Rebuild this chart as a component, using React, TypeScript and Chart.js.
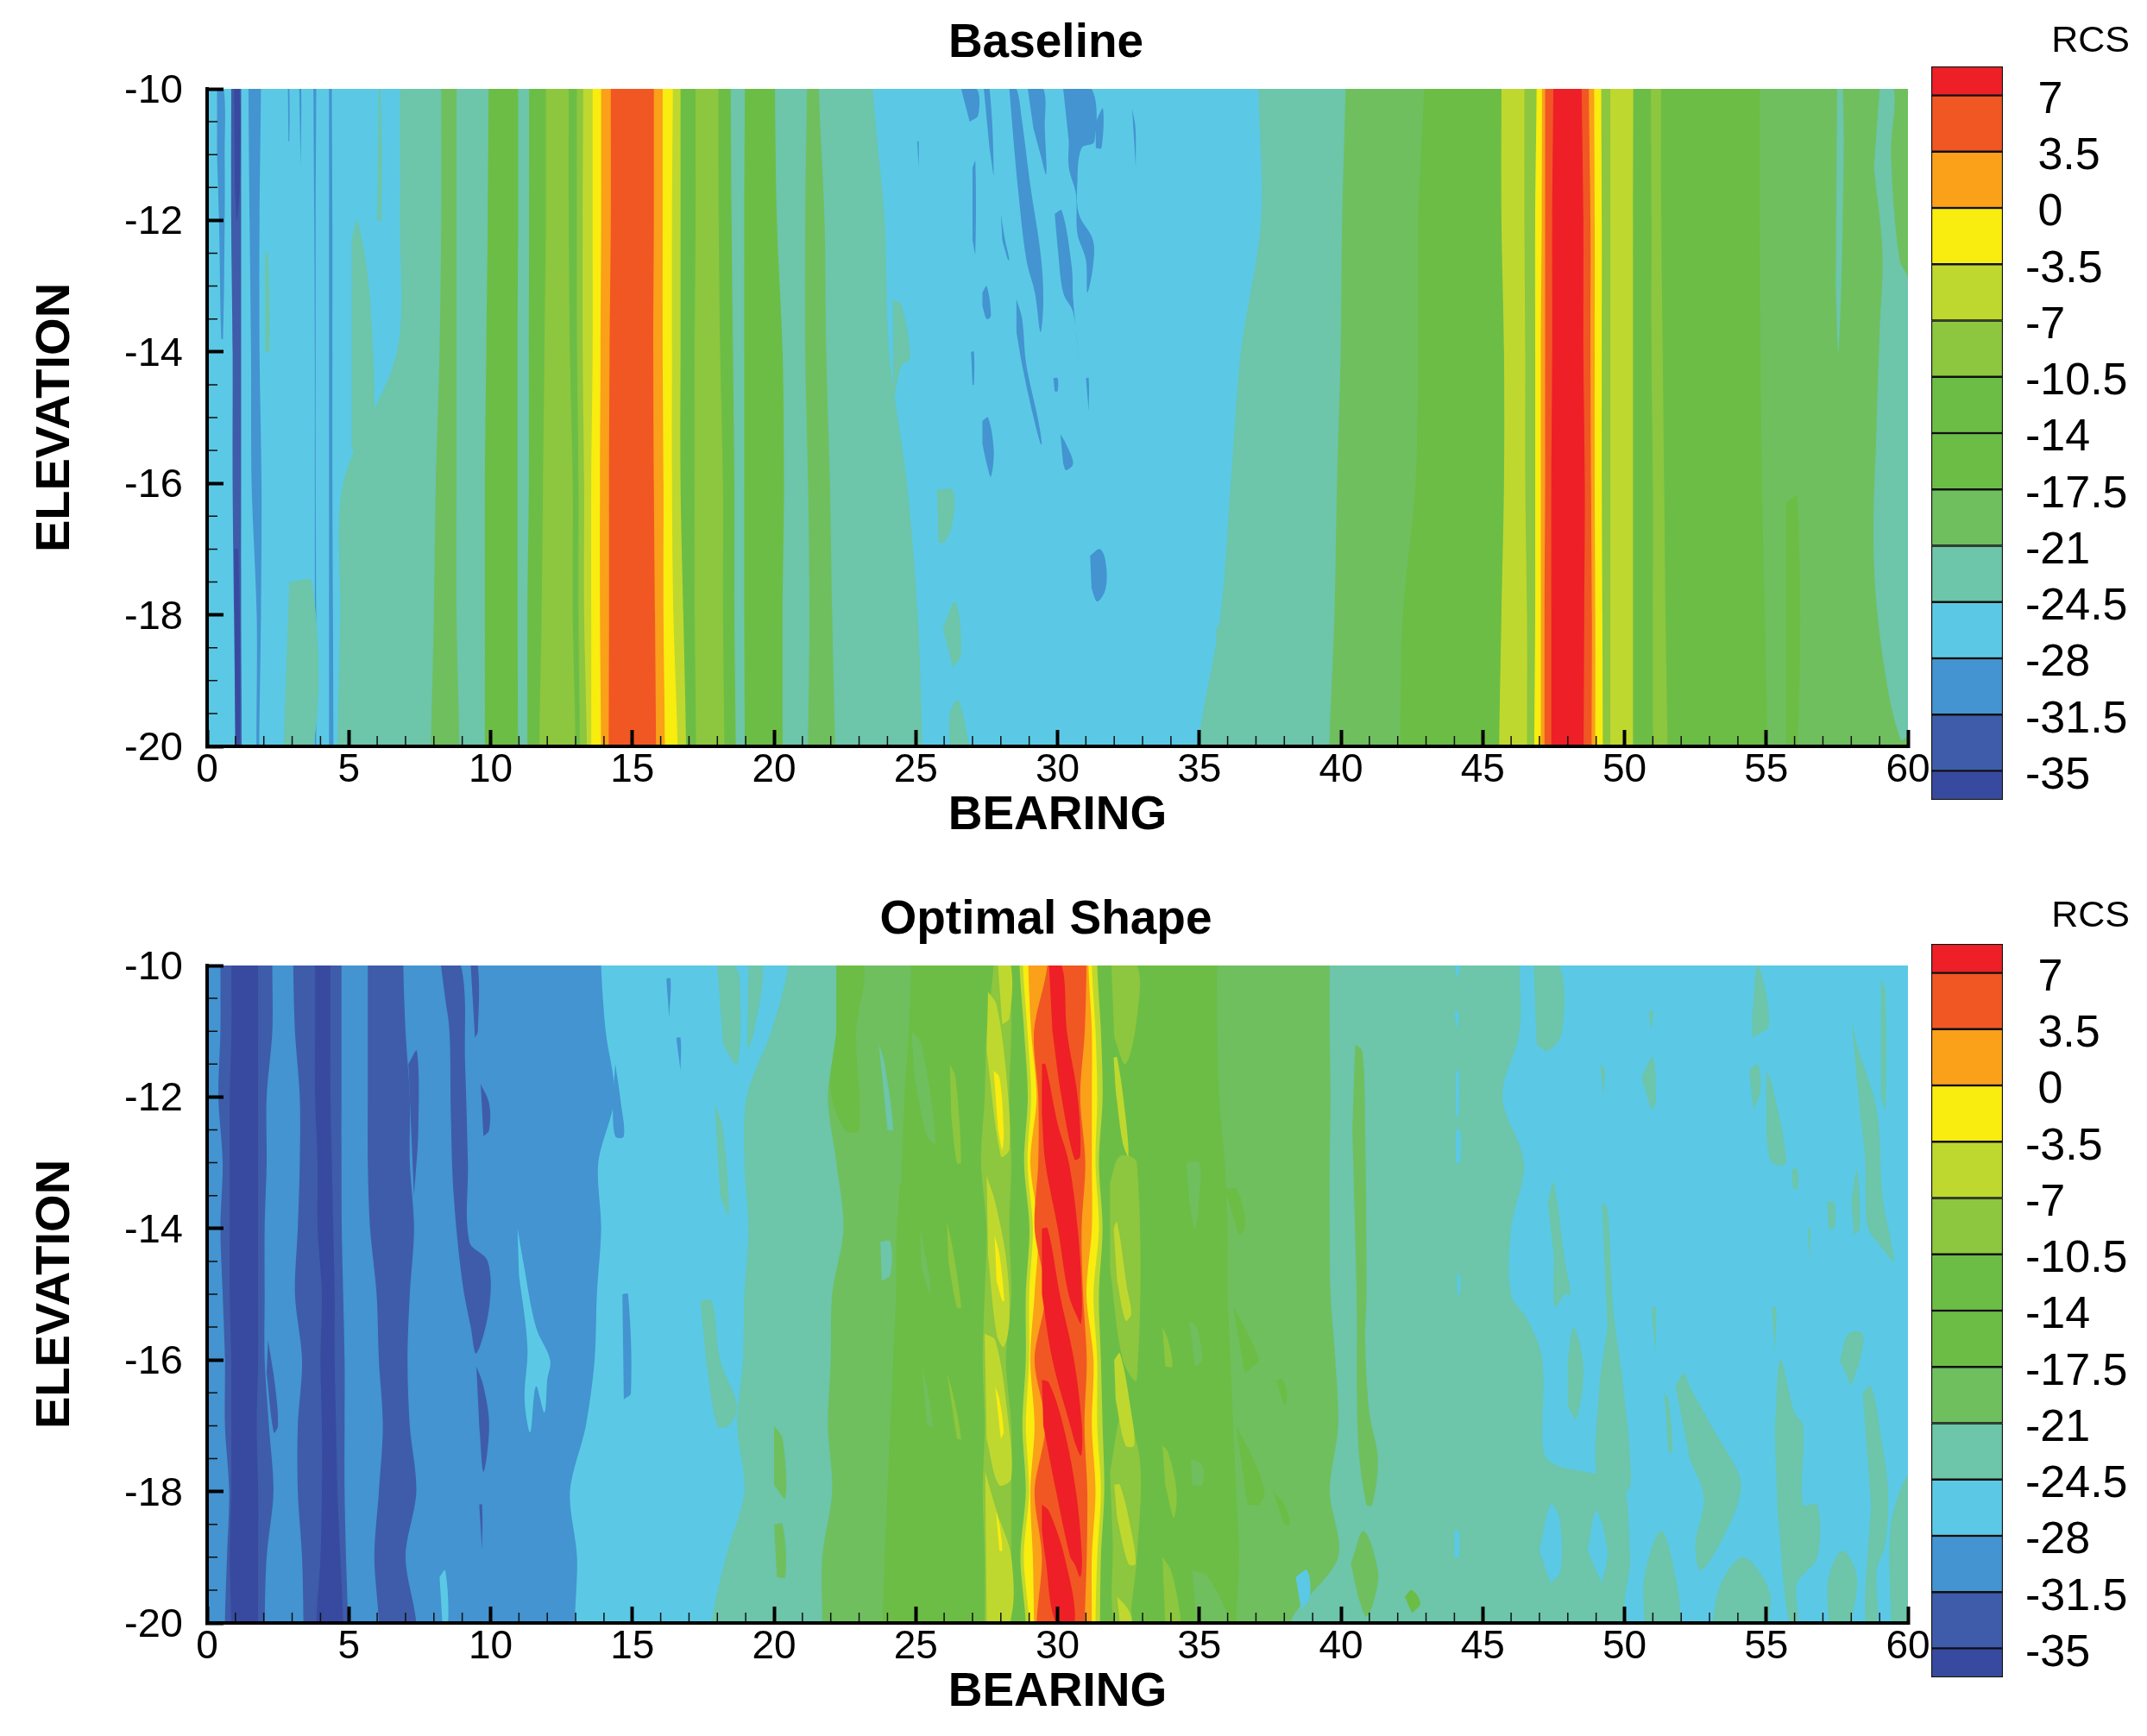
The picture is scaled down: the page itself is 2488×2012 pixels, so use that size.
import React, { useEffect, useRef } from "react";
import { Chart, registerables } from "chart.js";

Chart.register(...registerables);

const FONT = "'Liberation Sans', Arial, sans-serif";

const rcsTicks = [-35, -31.5, -28, -24.5, -21, -17.5, -14, -10.5, -7, -3.5, 0, 3.5, 7];
const rcsEdges = [-36.8, -35, -31.5, -28, -24.5, -21, -17.5, -14, -10.5, -7, -3.5, 0, 3.5, 7, 8.8];
const levelColors = ["#384a9f", "#3e5ca9", "#4394d1", "#5bc9e5", "#6dc5aa", "#6fbf5f", "#6cbd45", "#6cbd45", "#8dc63f", "#bfd82f", "#f9ec0f", "#faa019", "#f15722", "#ee1f26"];

const minorBearing = [1, 2, 3, 4, 6, 7, 8, 9, 11, 12, 13, 14, 16, 17, 18, 19, 21, 22, 23, 24, 26, 27, 28, 29, 31, 32, 33, 34, 36, 37, 38, 39, 41, 42, 43, 44, 46, 47, 48, 49, 51, 52, 53, 54, 56, 57, 58, 59];
const minorElevation = [-10.5, -11, -11.5, -12.5, -13, -13.5, -14.5, -15, -15.5, -16.5, -17, -17.5, -18.5, -19, -19.5];

type Edge = [number, number[]];
type Island = [number, number[]];

const baselineRows = [-10, -12, -14, -16, -18, -20];
const baselineEdges: Edge[] = [
  [3, [0, 0, 0, 0, 0, 0]],
  [1, [0.85, 0.85, 0.9, 0.9, 0.95, 1.0]],
  [3, [1.2, 1.2, 1.2, 1.2, 1.2, 1.22]],
  [2, [1.46, 1.5, 1.55, 1.57, 1.75, 1.74]],
  [3, [1.9, 1.85, 1.85, 1.92, 1.9, 1.84]],
  [2, [3.75, 3.78, 3.8, 3.8, 3.8, 3.8]],
  [3, [3.85, 3.83, 3.83, 3.83, 3.85, 3.85]],
  [2, [4.3, 4.3, 4.3, 4.3, 4.3, 4.3]],
  [3, [4.4, 4.42, 4.42, 4.42, 4.44, 4.46]],
  [4, [6.8, 6.8, 6.7, 4.8, 4.7, 4.6]],
  [5, [8.26, 8.26, 8.2, 8.07, 8.0, 7.9]],
  [4, [8.8, 8.8, 8.8, 8.8, 8.8, 8.9]],
  [6, [9.93, 9.9, 9.85, 9.8, 9.8, 9.8]],
  [4, [10.97, 10.97, 10.95, 10.95, 10.95, 10.97]],
  [6, [11.36, 11.36, 11.35, 11.35, 11.3, 11.3]],
  [8, [11.95, 11.95, 11.9, 11.85, 11.8, 11.72]],
  [6, [12.76, 12.76, 12.8, 12.9, 12.9, 13.0]],
  [8, [13.04, 13.04, 13.05, 13.1, 13.1, 13.15]],
  [9, [13.27, 13.25, 13.25, 13.3, 13.3, 13.4]],
  [10, [13.6, 13.6, 13.6, 13.55, 13.55, 13.55]],
  [11, [13.9, 13.9, 13.88, 13.86, 13.86, 13.9]],
  [12, [14.24, 14.24, 14.2, 14.18, 14.18, 14.17]],
  [11, [15.76, 15.76, 15.74, 15.76, 15.8, 15.84]],
  [10, [16.07, 16.07, 16.07, 16.1, 16.1, 16.15]],
  [9, [16.43, 16.4, 16.4, 16.4, 16.45, 16.6]],
  [7, [16.7, 16.7, 16.7, 16.7, 16.8, 16.9]],
  [8, [17.23, 17.23, 17.2, 17.2, 17.2, 17.25]],
  [6, [18.04, 18.05, 18.1, 18.2, 18.2, 18.25]],
  [4, [18.47, 18.5, 18.55, 18.6, 18.6, 18.65]],
  [6, [18.97, 18.95, 18.95, 18.95, 18.95, 18.97]],
  [4, [20.03, 20.1, 20.3, 20.35, 20.3, 20.3]],
  [5, [21.16, 21.1, 21.1, 21.2, 21.25, 21.2]],
  [4, [21.58, 21.78, 21.84, 21.97, 22.05, 22.15]],
  [3, [23.49, 23.9, 24.06, 24.69, 25.07, 25.23]],
  [4, [37.09, 37.18, 36.47, 36.11, 35.75, 34.95]],
  [5, [40.16, 40.04, 39.99, 39.86, 39.77, 39.59]],
  [6, [42.93, 42.72, 42.72, 42.63, 42.18, 42.09]],
  [9, [45.66, 45.66, 45.75, 45.75, 45.66, 45.58]],
  [8, [46.47, 46.47, 46.5, 46.5, 46.56, 46.56]],
  [10, [46.9, 46.85, 46.85, 46.85, 46.85, 46.82]],
  [11, [47.09, 47.08, 47.05, 47.05, 47.05, 47.05]],
  [12, [47.2, 47.2, 47.2, 47.2, 47.18, 47.18]],
  [13, [47.49, 47.45, 47.45, 47.42, 47.42, 47.42]],
  [12, [48.49, 48.55, 48.55, 48.6, 48.58, 48.56]],
  [11, [48.74, 48.8, 48.8, 48.82, 48.85, 48.84]],
  [10, [48.93, 48.95, 48.95, 48.95, 48.97, 48.97]],
  [8, [49.18, 49.2, 49.2, 49.2, 49.22, 49.24]],
  [9, [49.5, 49.5, 49.5, 49.5, 49.5, 49.5]],
  [6, [50.31, 50.3, 50.3, 50.3, 50.3, 50.3]],
  [8, [50.93, 50.95, 50.95, 51.0, 51.0, 51.0]],
  [6, [51.29, 51.3, 51.35, 51.4, 51.45, 51.52]],
  [5, [54.77, 54.77, 54.8, 54.85, 54.95, 55.04]],
];
const baselineIslands: Island[] = [
  [2, [0.35, -10, 0.59, -10, 0.62, -11, 0.62, -12, 0.56, -13.8, 0.5, -13.8, 0.42, -12, 0.35, -11]],
  [0, [0.95, -10, 1.15, -10, 1.15, -11.5, 1.05, -12, 0.98, -11.5]],
  [0, [0.95, -17, 1.1, -17, 1.15, -20, 1.0, -20]],
  [4, [5.1, -12.3, 5.3, -12, 5.75, -13.2, 5.8, -15.5, 5.1, -15.5]],
  [4, [6.05, -10, 6.12, -10, 6.15, -12, 6.0, -12]],
  [4, [2.05, -12.5, 2.15, -12.5, 2.2, -14, 2.05, -14]],
  [4, [2.9, -17.5, 3.7, -17.5, 3.75, -20, 2.7, -20]],
  [2, [2.85, -10, 2.9, -10, 2.9, -10.8, 2.87, -10.8]],
  [2, [3.25, -10, 3.32, -10, 3.3, -11.2]],
  [2, [30.2, -10, 31.2, -10, 31.3, -10.8, 30.85, -10.9, 30.7, -11.4, 30.75, -11.9, 31.25, -12.3, 31.25, -12.7, 31.05, -13.1, 31.0, -12.6, 30.7, -12.2, 30.65, -11.6, 30.4, -11.2, 30.4, -10.8]],
  [2, [28.3, -10, 28.55, -10, 28.75, -10.5, 29.05, -11.5, 29.4, -12.5, 29.5, -13.2, 29.4, -13.7, 29.2, -13.1, 28.9, -12.6, 28.6, -11.5, 28.45, -10.8]],
  [2, [28.95, -10, 29.5, -10, 29.55, -10.6, 29.6, -11.3, 29.4, -11, 29.15, -10.6]],
  [2, [26.6, -10, 27.15, -10, 27.2, -10.4, 26.9, -10.5]],
  [2, [27.4, -10, 27.6, -10, 27.75, -11.3, 27.6, -10.9]],
  [2, [29.9, -11.9, 30.15, -11.85, 30.5, -12.7, 30.55, -13.2, 30.75, -14.1, 30.55, -13.4, 30.2, -13.1, 30.0, -12.4]],
  [2, [28.55, -13.2, 28.75, -13.5, 28.9, -14.2, 29.3, -15, 29.45, -15.4, 29.4, -15.4, 29.1, -14.9, 28.75, -14.2, 28.55, -13.7]],
  [2, [27, -11.2, 27.1, -11.1, 27.1, -12.5, 27.0, -12.3]],
  [2, [28, -11.9, 28.15, -12.3, 28.3, -12.6, 28.25, -12.6, 28.05, -12.3]],
  [2, [27.35, -13.1, 27.5, -13.0, 27.65, -13.45, 27.5, -13.5, 27.35, -13.3]],
  [2, [27.35, -15.05, 27.55, -15, 27.75, -15.5, 27.65, -15.9, 27.5, -15.7, 27.35, -15.4]],
  [2, [30.1, -15.25, 30.3, -15.4, 30.55, -15.7, 30.3, -15.8, 30.2, -15.7]],
  [2, [31.15, -17.1, 31.5, -17.0, 31.7, -17.2, 31.7, -17.6, 31.4, -17.8, 31.2, -17.6]],
  [2, [29.85, -14.4, 30, -14.4, 30, -14.6, 29.9, -14.6]],
  [2, [26.95, -14, 27.05, -14, 27.05, -14.5, 27, -14.5]],
  [2, [25.05, -10.8, 25.1, -10.8, 25.1, -11.2]],
  [2, [31.35, -10.5, 31.6, -10.3, 31.55, -10.9, 31.35, -10.9]],
  [2, [31, -14.4, 31.1, -14.4, 31.1, -14.9]],
  [2, [32.63, -10.3, 32.75, -10.6, 32.76, -11.2]],
  [4, [24.2, -13.2, 24.5, -13.3, 24.8, -14.1, 24.5, -14.2, 24.2, -14.8]],
  [4, [25.75, -16.1, 26.3, -16.1, 26.3, -16.6, 26, -16.9, 25.8, -16.9]],
  [4, [25.95, -18.2, 26.4, -17.8, 26.6, -18.6, 26.3, -18.8]],
  [4, [26.2, -20, 26.2, -19.5, 26.5, -19.3, 26.9, -20]],
  [4, [35.6, -18.2, 35.95, -18.1, 35.95, -18.6, 35.6, -18.7]],
  [4, [59, -10, 59.5, -10, 59.4, -11, 59.7, -12.6, 60, -12.9, 60, -19.8, 59.75, -19.9, 59.2, -18.9, 58.8, -17.2, 58.9, -15, 59.0, -13.7, 59.1, -12.5, 58.8, -11.2]],
  [4, [57.5, -10, 57.7, -10, 57.7, -12, 57.55, -14, 57.45, -13]],
  [6, [55.7, -16.3, 56.1, -16.2, 56.1, -20, 55.7, -20]],
];

const optimalRows = [-10, -11, -12, -13, -14, -15, -16, -17, -18, -19, -20];
const optimalEdges: Edge[] = [
  [2, [0, 0, 0, 0, 0, 0, 0, 0, 0, 0, 0]],
  [1, [0.47, 0.47, 0.4, 0.55, 0.47, 0.55, 0.63, 0.63, 0.78, 0.7, 0.63]],
  [0, [0.86, 0.86, 0.8, 0.8, 0.8, 0.8, 0.85, 0.85, 0.85, 0.8, 0.85]],
  [1, [1.8, 1.8, 1.8, 1.8, 1.8, 1.8, 1.8, 1.75, 1.8, 1.8, 1.8]],
  [2, [2.3, 2.3, 2.1, 2.1, 2.03, 2.03, 2.03, 2.18, 2.34, 2.1, 2.03]],
  [1, [3.04, 3.1, 3.27, 3.27, 3.2, 3.1, 3.35, 3.2, 3.2, 3.35, 3.4]],
  [0, [3.81, 3.81, 3.81, 3.9, 3.9, 4.05, 4.0, 4.05, 4.05, 4.0, 3.85]],
  [1, [4.35, 4.35, 4.35, 4.4, 4.45, 4.5, 4.5, 4.55, 4.6, 4.7, 4.8]],
  [2, [4.74, 4.74, 4.74, 4.74, 4.75, 4.8, 4.85, 4.85, 4.85, 4.9, 4.97]],
  [1, [5.67, 5.67, 5.67, 5.67, 5.75, 5.98, 6.06, 6.2, 6.06, 5.9, 6.06]],
  [2, [6.92, 7, 7.15, 7.15, 7.3, 7.15, 7.07, 7.15, 7.38, 7.0, 7.38]],
  [3, [13.9, 14.06, 14.37, 13.8, 13.9, 13.75, 13.67, 13.36, 12.8, 13.05, 12.97]],
  [4, [20.5, 19.9, 19.03, 18.95, 19.1, 18.95, 18.9, 18.7, 18.95, 18.3, 17.8]],
  [5, [22.2, 22.2, 21.9, 22.2, 22.45, 22.05, 22, 21.9, 22.05, 21.7, 21.7]],
  [6, [24.84, 24.75, 24.6, 24.5, 24.33, 24.3, 24.2, 24.1, 24, 23.9, 23.83]],
  [8, [27.74, 27.5, 27.43, 27.3, 27.5, 27.43, 27.36, 27.43, 27.36, 27.43, 27.43]],
  [6, [28.37, 28.37, 28.3, 28.37, 28.3, 28.37, 28.18, 28.37, 28.37, 28.37, 28.37]],
  [9, [28.66, 28.82, 28.95, 28.82, 29.01, 28.88, 28.88, 28.76, 28.88, 28.69, 28.88]],
  [10, [28.78, 28.94, 29.07, 28.94, 29.13, 29.0, 29.0, 28.88, 29.0, 28.81, 29.0]],
  [11, [28.97, 29.07, 29.26, 29.04, 29.32, 29.19, 29.04, 29.19, 29.04, 29.13, 29.17]],
  [12, [29.64, 29.17, 29.32, 29.32, 29.19, 29.57, 29.19, 29.57, 29.19, 29.45, 29.26]],
  [11, [31.02, 30.96, 30.8, 30.98, 30.85, 30.9, 31.03, 30.95, 31.05, 31.03, 30.96]],
  [10, [31.09, 31.21, 31.21, 31.21, 31.21, 31.02, 31.27, 31.21, 31.34, 31.21, 31.21]],
  [9, [31.21, 31.34, 31.4, 31.34, 31.46, 31.27, 31.4, 31.4, 31.53, 31.4, 31.34]],
  [6, [31.4, 31.53, 31.59, 31.46, 31.59, 31.46, 31.53, 31.59, 31.65, 31.53, 31.5]],
  [5, [35.63, 35.63, 35.7, 35.9, 36.0, 36.0, 36.1, 36.2, 36.3, 36.4, 36.3]],
  [4, [39.6, 39.6, 39.63, 39.6, 39.6, 39.63, 39.8, 39.9, 39.6, 39.9, 38.2]],
];
const optimalL3Region: Island = [3, [46.3, -10, 46.3, -11, 45.7, -12, 46.45, -13, 46.0, -14, 46.0, -15, 46.6, -15.4, 47.1, -16, 47.15, -17.4, 47.6, -17.6, 48.6, -17.7, 49.8, -17.8, 50.05, -18, 50.2, -19, 50.3, -20, 60, -20, 60, -10]];
const optimalIslands: Island[] = [
  [1, [8.25, -10, 8.95, -10, 9.1, -11.5, 9.2, -13, 9.25, -14.2, 9.9, -14.5, 9.95, -15.2, 9.5, -15.9, 9.3, -15.5, 9, -14.8, 8.7, -13.5, 8.6, -12.3, 8.55, -11, 8.4, -10.5]],
  [1, [9.3, -10, 9.55, -10, 9.55, -11, 9.45, -11.1]],
  [1, [9.65, -11.8, 9.95, -12.1, 9.95, -12.5, 9.75, -12.6]],
  [1, [9.5, -16.1, 9.75, -16.4, 9.95, -17, 9.75, -17.7, 9.6, -17]],
  [1, [7.1, -11.5, 7.4, -11.3, 7.45, -12.5, 7.3, -13.5]],
  [1, [9.6, -18.2, 9.7, -18.2, 9.7, -18.9]],
  [1, [2.15, -15.7, 2.4, -16.4, 2.5, -17, 2.35, -17.1, 2.1, -16.2]],
  [3, [10.95, -14, 11.15, -14.5, 11.6, -15.5, 12.1, -16.0, 12, -16.3, 11.9, -16.8, 11.6, -16.4, 11.4, -17.1, 11.2, -16.6, 11.3, -15.8, 11, -14.7]],
  [3, [8.2, -19.3, 8.4, -19.2, 8.5, -20, 8.3, -20]],
  [2, [14.4, -11.5, 14.6, -12.1, 14.7, -12.6, 14.4, -12.6, 14.3, -12.1]],
  [2, [14.65, -15, 14.85, -15, 14.95, -16.5, 14.7, -16.6]],
  [2, [16.2, -10.2, 16.35, -10.2, 16.3, -10.8]],
  [2, [16.55, -11.1, 16.7, -11.1, 16.7, -11.6]],
  [4, [18, -10, 18.6, -10, 18.8, -10.3, 18.7, -11.5, 18.2, -11.2]],
  [4, [19.1, -10, 19.6, -10, 19.3, -11, 19.05, -11.3]],
  [4, [17.9, -12.1, 18.2, -12.5, 18.4, -13.8, 18.1, -13.5]],
  [4, [17.4, -15.1, 17.8, -15.1, 18.1, -16, 18.7, -16.7, 18.4, -17, 18, -17, 17.6, -16]],
  [5, [20, -17, 20.3, -17.2, 20.4, -18.1, 20, -17.9]],
  [5, [20, -18.5, 20.3, -18.5, 20.4, -19.3, 20.1, -19.3]],
  [6, [22.2, -10, 23.15, -10, 22.9, -11, 23.0, -12.5, 22.5, -12.5, 22, -11.9, 22.2, -11]],
  [5, [23.8, -11, 24.1, -10.7, 24.45, -13, 24.5, -13.3, 24.3, -13.3, 24, -12.5]],
  [4, [23.7, -11.2, 23.9, -11.5, 24.2, -12.5, 24, -12.5]],
  [5, [24.85, -11, 25.2, -11.2, 25.7, -12.7, 25.4, -12.6, 24.95, -11.7]],
  [5, [25.15, -14, 25.5, -14.8, 25.5, -15, 25.2, -14.6]],
  [5, [25.2, -16, 25.6, -17, 25.4, -17]],
  [4, [23.75, -14.2, 24.1, -14.2, 24.1, -14.7, 23.8, -14.8]],
  [8, [26.2, -11.5, 26.4, -11.7, 26.6, -13, 26.45, -13, 26.25, -12.3]],
  [8, [26.1, -13.9, 26.3, -14.3, 26.6, -15.2, 26.45, -15.2, 26.15, -14.5]],
  [8, [26.1, -16.2, 26.3, -16.5, 26.6, -17.2, 26.45, -17.2]],
  [9, [27.55, -10.4, 27.85, -10.6, 28.2, -11.7, 28.3, -12.8, 28, -12.9, 27.5, -11.3]],
  [9, [27.9, -10, 28.35, -10, 28.3, -10.8, 28.05, -10.9]],
  [9, [27.5, -13.2, 27.8, -13.6, 28.2, -14.5, 28.3, -15.4, 28.1, -15.8, 27.85, -15.6, 27.55, -14.4]],
  [9, [27.43, -15.6, 27.8, -15.7, 28.2, -16.7, 28.37, -17.8, 27.93, -17.9, 27.5, -17.2]],
  [9, [27.45, -17.7, 27.85, -18.3, 28.37, -19, 28.3, -20, 27.5, -20]],
  [10, [27.75, -11.6, 27.95, -11.7, 28.1, -12.5, 28.05, -12.8, 27.9, -12.5]],
  [10, [27.78, -14.1, 27.95, -14.4, 28.12, -15.1, 28.05, -15.1, 27.85, -14.8]],
  [10, [27.8, -16.4, 27.95, -16.6, 28.1, -17.1, 28.0, -17.2]],
  [10, [27.83, -18.3, 27.95, -18.5, 28.05, -18.9, 27.95, -18.9]],
  [13, [29.7, -10, 30.15, -10, 30.33, -11, 30.71, -12, 30.8, -12.9, 30.6, -12.95, 30.14, -12, 29.82, -11]],
  [13, [29.45, -11.5, 29.57, -11.5, 30.0, -12.4, 30.4, -13, 30.71, -14, 30.86, -15, 30.83, -15.45, 30.75, -15.4, 30.39, -15, 30.01, -14, 29.57, -13, 29.45, -12.26]],
  [13, [29.45, -14, 29.65, -14, 30.08, -15, 30.58, -16, 30.86, -17, 30.83, -17.45, 30.65, -17.3, 30.45, -17, 29.82, -16, 29.45, -15]],
  [13, [29.45, -16.3, 29.7, -16.35, 30.2, -17, 30.65, -18, 30.86, -19, 30.8, -19.3, 30.6, -19.1, 30.45, -19, 29.95, -18, 29.5, -17]],
  [13, [29.45, -18.2, 29.7, -18.3, 30.25, -19, 30.6, -20, 29.95, -20, 29.57, -19, 29.45, -18.6]],
  [8, [31.9, -10, 32.8, -10, 32.8, -10.8, 32.4, -11.5, 32, -11.1]],
  [8, [31.85, -13.3, 32.2, -12.9, 32.8, -13, 32.8, -16.3, 32.3, -16, 31.85, -14.6]],
  [8, [31.85, -17.7, 32.3, -16.8, 32.9, -17.5, 32.8, -19, 32.6, -19.8, 32.6, -20, 32, -20, 31.95, -18.8]],
  [9, [31.98, -11.4, 32.1, -11.4, 32.4, -12.3, 32.5, -12.9, 32.3, -12.7, 32.05, -11.9]],
  [9, [31.98, -14, 32.1, -13.9, 32.45, -14.9, 32.6, -15.3, 32.4, -15.4, 32.1, -14.8]],
  [9, [32, -16, 32.2, -15.9, 32.6, -16.8, 32.7, -17.3, 32.4, -17.3, 32.05, -16.6]],
  [9, [32, -17.9, 32.2, -17.9, 32.6, -18.6, 32.75, -19.1, 32.5, -19.1, 32.1, -18.4]],
  [9, [32.1, -19.6, 32.5, -19.8, 32.6, -20, 32.2, -20]],
  [8, [33.7, -15.5, 33.9, -15.7, 34.05, -16.1, 33.8, -16.1]],
  [8, [33.7, -17.3, 33.9, -17.4, 34.2, -18, 34.1, -18.4, 33.8, -17.9]],
  [8, [33.7, -19, 34, -19.2, 34.3, -19.8, 34.3, -20, 33.8, -20]],
  [5, [34.55, -13, 35, -13, 35, -13.5, 34.85, -14, 34.65, -13.6]],
  [5, [34.65, -15.4, 34.9, -15.5, 35.1, -16, 34.85, -16.1]],
  [5, [34.7, -17.5, 35.1, -17.6, 35.1, -17.9, 34.75, -17.9]],
  [5, [34.75, -19.2, 35.3, -19.3, 36, -20, 34.9, -20]],
  [6, [35.9, -13.4, 36.3, -13.4, 36.6, -13.8, 36.6, -14, 36.4, -14.1]],
  [6, [36.2, -15.2, 36.6, -15.5, 37.1, -16, 36.9, -16.1, 36.6, -16.2]],
  [6, [36.3, -17, 36.9, -17.5, 37.3, -18, 37.1, -18.2, 36.7, -18.2]],
  [6, [37.6, -18, 38, -18.2, 38.2, -18.5, 38, -18.5]],
  [6, [37.7, -16.3, 37.95, -16.3, 38.1, -16.6, 38, -16.7]],
  [5, [40.5, -11.2, 40.75, -11.3, 40.85, -12.5, 40.9, -15, 40.85, -15.7, 41, -16.8, 41.3, -17.5, 41.1, -18.2, 40.9, -18.2, 40.6, -17.2, 40.55, -15, 40.4, -12.5]],
  [5, [40.35, -19.1, 40.8, -18.6, 41.3, -19.2, 41.2, -19.6, 40.9, -19.9, 40.6, -19.6]],
  [6, [42.25, -19.6, 42.5, -19.5, 42.8, -19.7, 42.5, -19.85]],
  [3, [38.4, -19.3, 38.8, -19.2, 38.9, -19.6, 38.6, -19.8]],
  optimalL3Region,
  [4, [46.8, -10, 47.7, -10, 47.8, -11, 47.3, -11.3, 46.9, -11.2]],
  [4, [54.5, -10.8, 54.7, -10, 55.1, -10.9, 54.5, -11.1]],
  [4, [54.4, -11.6, 54.7, -11.5, 54.8, -11.9, 54.55, -12.2]],
  [4, [55, -11.6, 55.2, -11.8, 55.7, -13.0, 55.2, -13, 55, -12.6]],
  [4, [50.6, -11.7, 51, -11.4, 51.1, -12.1, 50.95, -12.2]],
  [4, [50.85, -10.7, 51, -10.7, 50.95, -11]],
  [4, [49.15, -11.5, 49.3, -11.6, 49.25, -12]],
  [4, [58, -10.8, 58.2, -11.2, 58.9, -12.2, 59.1, -13.5, 59.4, -14.2, 59.5, -14.5, 59.1, -14.3, 58.6, -14, 58.5, -13.4, 58.5, -13, 58.3, -12.2]],
  [4, [59.05, -10.2, 59.2, -10.4, 59.2, -12.2, 59.05, -12]],
  [4, [47.3, -13.6, 47.5, -13.3, 47.9, -14.5, 48.1, -15, 47.9, -15, 47.55, -15.2, 47.5, -14.4]],
  [4, [48, -16.0, 48.2, -15.5, 48.55, -16.1, 48.3, -16.9, 48, -16.7]],
  [4, [49.2, -13.6, 49.4, -13.7, 49.6, -15.2, 49.9, -16.2, 50.2, -17.5, 50.1, -18, 49.1, -17.9, 49.1, -16.5, 49.4, -15.5]],
  [4, [51.4, -16.5, 51.55, -16.6, 51.7, -17.4, 51.55, -17.4]],
  [4, [51.8, -16.4, 52.1, -16.2, 52.3, -16.4, 53.2, -17.1, 54, -17.7, 54.1, -18, 53.6, -18.6, 52.7, -19.2, 52.5, -18.8, 52.8, -18.1, 52.3, -17.5]],
  [4, [50.7, -20, 50.7, -19.3, 51.3, -18.6, 51.85, -19.4, 52, -20]],
  [4, [53.1, -20, 53.4, -19.4, 54.2, -19.0, 55.1, -19.5, 55.1, -20]],
  [4, [55.3, -17.1, 55.5, -16, 56, -16.8, 56.3, -17, 56.3, -18.2, 56.8, -18.2, 56.8, -19, 56.1, -19.4, 56.1, -20, 55.8, -20, 55.4, -18.3]],
  [4, [57.2, -20, 57.2, -19.3, 57.7, -18.9, 58.2, -19.3, 58, -20]],
  [4, [58.4, -16.5, 58.7, -16.4, 59.1, -17.3, 59.3, -18, 59.2, -18.8, 58.9, -19.2, 58.9, -20, 58.5, -20, 58.7, -18.2]],
  [4, [59.4, -20, 59.4, -18.5, 60, -17.8, 60, -20]],
  [4, [57.6, -16, 57.9, -15.6, 58.4, -15.6, 58.3, -16, 58, -16.4]],
  [4, [58, -13.6, 58.2, -13.1, 58.3, -14, 58.1, -14.1]],
  [4, [57.15, -13.6, 57.4, -13.6, 57.4, -14, 57.2, -14]],
  [4, [55.9, -13.1, 56.1, -13.1, 56.1, -13.4, 55.95, -13.4]],
  [4, [56.45, -14, 56.55, -14, 56.55, -14.5]],
  [4, [55.2, -15.2, 55.35, -15.2, 55.3, -15.9]],
  [4, [50.95, -15.2, 51.1, -15.2, 51.1, -15.9]],
  [3, [44, -10, 44.2, -10, 44.1, -10.2]],
  [3, [44, -10.7, 44.15, -10.7, 44.1, -11]],
  [3, [44.05, -11.6, 44.15, -11.6, 44.15, -12.3, 44.05, -12.3]],
  [3, [44.05, -12.5, 44.2, -12.5, 44.2, -13, 44.05, -13]],
  [3, [44.1, -14.7, 44.2, -14.7, 44.2, -15, 44.1, -15]],
  [3, [44, -18.6, 44.15, -18.6, 44.15, -19, 44, -19]],
  [3, [47, -18.9, 47.4, -18.2, 47.7, -18.4, 47.75, -19.2, 47.4, -19.4]],
  [3, [48.7, -18.9, 49, -18.3, 49.4, -18.9, 49.2, -19.4]],
];

const pairsToPoints = (flat: number[]) => {
  const pts: { x: number; y: number }[] = [];
  for (let i = 0; i < flat.length; i += 2) pts.push({ x: flat[i], y: flat[i + 1] });
  return pts;
};

const polygonDataset = (level: number, data: { x: number; y: number }[], tension: number) => ({
  data,
  xAxisID: "x",
  yAxisID: "y",
  fill: "shape",
  showLine: true,
  backgroundColor: levelColors[level],
  borderColor: "transparent",
  borderWidth: 0,
  pointRadius: 0,
  pointHoverRadius: 0,
  tension,
  capBezierPoints: false,
});

// Each edge closes to the right of the plot; its ends run past the clipped
// plot area so that the smoothing corners stay out of sight.
const edgePolygon = (rows: number[], xs: number[]) => {
  const last = rows.length - 1;
  return [
    { x: xs[0], y: rows[0] + 1 },
    ...rows.map((y, i) => ({ x: xs[i], y })),
    { x: xs[last], y: rows[last] - 1 },
    { x: 70, y: rows[last] - 1 },
    { x: 70, y: rows[0] + 1 },
  ];
};

// Chart.js paints the first dataset last, so the painter's order is reversed.
const contourDatasets = (rows: number[], edges: Edge[], islands: Island[]) =>
  [
    ...edges.map(([level, xs]) => polygonDataset(level, edgePolygon(rows, xs), 0.3)),
    ...islands.map(([level, flat]) => polygonDataset(level, pairsToPoints(flat), 0.35)),
  ].reverse();

const minorTickPlugin = {
  id: "minorTicks",
  afterDatasetsDraw(chart: any) {
    const { ctx, scales, chartArea } = chart;
    ctx.save();
    ctx.strokeStyle = "#111";
    ctx.lineWidth = 1.5;
    ctx.beginPath();
    minorBearing.forEach((v) => {
      const px = scales.x.getPixelForValue(v);
      ctx.moveTo(px, chartArea.bottom);
      ctx.lineTo(px, chartArea.bottom - 12);
    });
    minorElevation.forEach((v) => {
      const py = scales.y.getPixelForValue(v);
      ctx.moveTo(chartArea.left, py);
      ctx.lineTo(chartArea.left + 12, py);
    });
    ctx.stroke();
    ctx.restore();
  },
};

function contourConfig(title: string, rows: number[], edges: Edge[], islands: Island[]): any {
  return {
    type: "line",
    data: { datasets: contourDatasets(rows, edges, islands) },
    plugins: [minorTickPlugin],
    options: {
      indexAxis: "y",
      responsive: false,
      animation: false,
      devicePixelRatio: 1,
      events: [],
      layout: { padding: 0 },
      plugins: {
        legend: { display: false },
        tooltip: { enabled: false },
        title: {
          display: true,
          text: title,
          color: "#000",
          font: { family: FONT, size: 55, weight: "bold", lineHeight: 1 },
          padding: { top: 23, bottom: 25 },
        },
      },
      scales: {
        x: {
          type: "linear",
          position: "bottom",
          min: 0,
          max: 60,
          afterFit: (s: any) => { s.height = 131; },
          border: { display: true, color: "#000", width: 4, z: 2 },
          grid: { drawOnChartArea: false, drawTicks: true, tickLength: -19, tickWidth: 4, tickColor: "#000", z: 2 },
          ticks: { stepSize: 5, color: "#000", padding: 24, maxRotation: 0, autoSkip: false, font: { family: FONT, size: 46, lineHeight: 1 } },
          title: { display: true, text: "BEARING", color: "#000", font: { family: FONT, size: 55, weight: "bold", lineHeight: 1 }, padding: { top: 0, bottom: 23 } },
        },
        y: {
          type: "linear",
          position: "left",
          min: -20,
          max: -10,
          afterFit: (s: any) => { s.width = 240; },
          border: { display: true, color: "#000", width: 4, z: 2 },
          grid: { drawOnChartArea: false, drawTicks: true, tickLength: -19, tickWidth: 4, tickColor: "#000", z: 2 },
          ticks: { stepSize: 2, color: "#000", padding: 47, labelOffset: 3, autoSkip: false, font: { family: FONT, size: 47, lineHeight: 1 } },
          title: { display: true, text: "ELEVATION", color: "#000", font: { family: FONT, size: 56, weight: "bold", lineHeight: 1 }, padding: { top: 37, bottom: 0 } },
        },
        yPad: {
          type: "linear",
          axis: "y",
          position: "right",
          afterFit: (s: any) => { s.width = 213; },
          border: { display: false },
          grid: { display: false, drawTicks: false },
          ticks: { display: false },
        },
      },
    },
  };
}

function colorbarConfig(titleTop: number): any {
  return {
    type: "bar",
    data: {
      labels: ["RCS"],
      datasets: levelColors.map((color, i) => ({
        data: [[rcsEdges[i], rcsEdges[i + 1]]],
        backgroundColor: color,
        borderColor: "#111",
        borderWidth: 1.5,
        borderSkipped: false,
        barPercentage: 1,
        categoryPercentage: 1,
        grouped: false,
      })),
    },
    options: {
      responsive: false,
      animation: false,
      devicePixelRatio: 1,
      events: [],
      layout: { autoPadding: false, padding: { left: 8, bottom: 0, top: 0, right: 0 } },
      plugins: {
        legend: { display: false },
        tooltip: { enabled: false },
        title: {
          display: true,
          text: "RCS",
          align: "end",
          color: "#000",
          font: { family: FONT, size: 43, weight: "normal", lineHeight: 1 },
          padding: { top: titleTop, bottom: 34 - titleTop },
        },
      },
      scales: {
        x: {
          display: true,
          position: "bottom",
          afterFit: (s: any) => { s.height = 30; },
          border: { display: false },
          grid: { display: false, drawTicks: false },
          ticks: { display: false },
        },
        y: {
          type: "linear",
          position: "right",
          min: rcsEdges[0],
          max: rcsEdges[rcsEdges.length - 1],
          afterFit: (s: any) => { s.width = 147; },
          afterBuildTicks: (s: any) => { s.ticks = rcsTicks.map((value) => ({ value })); },
          border: { display: false },
          grid: { display: false, drawTicks: false },
          ticks: {
            color: "#000",
            padding: 26,
            labelOffset: 6,
            autoSkip: false,
            font: { family: FONT, size: 52, lineHeight: 1 },
            callback: (v: number) => (v >= 0 ? " " + v : String(v)),
          },
        },
      },
    },
  };
}

const canvasStyle = (left: number, top: number, width: number, height: number): React.CSSProperties => ({
  position: "absolute", left, top, width, height, display: "block",
});

function ChartCanvas({ left, top, width, height, config }: { left: number; top: number; width: number; height: number; config: () => any }) {
  const ref = useRef<HTMLCanvasElement>(null);
  useEffect(() => {
    const chart = new Chart(ref.current as HTMLCanvasElement, config());
    return () => chart.destroy();
  }, []);
  return <canvas ref={ref} width={width} height={height} style={canvasStyle(left, top, width, height)} />;
}

export default function App() {
  return (
    <div style={{ position: "absolute", left: 0, top: 0, width: 2488, height: 2012, background: "#fff", overflow: "hidden" }}>
      <ChartCanvas left={0} top={0} width={2424} height={996} config={() => contourConfig("Baseline", baselineRows, baselineEdges, baselineIslands)} />
      <ChartCanvas left={0} top={1016} width={2424} height={996} config={() => contourConfig("Optimal Shape", optimalRows, optimalEdges, optimalIslands)} />
      <ChartCanvas left={2230} top={0} width={238} height={979} config={() => colorbarConfig(27)} />
      <ChartCanvas left={2230} top={1017} width={238} height={979} config={() => colorbarConfig(24)} />
    </div>
  );
}
